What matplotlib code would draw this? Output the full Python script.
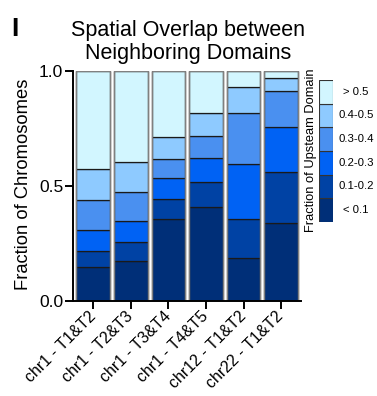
import matplotlib
matplotlib.use("Agg")
import matplotlib.pyplot as plt
import matplotlib.transforms as mtransforms
import numpy as np

plt.rcParams['font.family'] = ['Liberation Sans', 'DejaVu Sans']

categories = ["chr1 - T1&T2", "chr1 - T2&T3", "chr1 - T3&T4", "chr1 - T4&T5", "chr12 - T1&T2", "chr22 - T1&T2"]
bins = ["< 0.1", "0.1-0.2", "0.2-0.3", "0.3-0.4", "0.4-0.5", "> 0.5"]
lt_01 =   [0.149, 0.172, 0.358, 0.407, 0.188, 0.340]
b01_02 =  [0.068, 0.086, 0.084, 0.109, 0.167, 0.221]
b02_03 =  [0.092, 0.091, 0.091, 0.107, 0.239, 0.196]
b03_04 =  [0.130, 0.123, 0.086, 0.096, 0.223, 0.154]
b04_05 =  [0.133, 0.131, 0.093, 0.097, 0.112, 0.060]
gt_05 =   [0.428, 0.397, 0.288, 0.184, 0.071, 0.029]
series = [lt_01, b01_02, b02_03, b03_04, b04_05, gt_05]
colors = ["#002f78", "#0042a4", "#0062f4", "#4a90f0", "#8ecaff", "#d2f6ff"]

fig = plt.figure(figsize=(3.77, 3.96), dpi=100)
ax = fig.add_axes([73/377, 1-301/396, (301-73)/377, (301-71)/396])

x = np.arange(len(categories))
bottom = np.zeros(len(categories))
for vals, c in zip(series, colors):
    ax.bar(x, vals, bottom=bottom, width=0.9, color=c, edgecolor="#1a1a1a", linewidth=0.9)
    bottom += np.array(vals)
ax.bar(x, bottom, width=0.9, fill=False, edgecolor="#808080", linewidth=1.0)

ax.set_xlim(-0.54, 5.53)
ax.set_ylim(0, 1.0)
ax.set_yticks([0, 0.5, 1.0])
ax.set_yticklabels(["0.0", "0.5", "1.0"], fontsize=12.5)
ax.set_xticks(x)
ax.set_xticklabels(categories, rotation=45, ha="right", va="center", rotation_mode="anchor", fontsize=11.5)
offset = mtransforms.ScaledTranslation(10/100, -5/100, fig.dpi_scale_trans)
for lab in ax.get_xticklabels():
    lab.set_transform(lab.get_transform() + offset)
ax.tick_params(axis="both", direction="out", length=6, width=1.4, colors="black")
ax.tick_params(axis="y", pad=1)
for s in ["top", "right"]:
    ax.spines[s].set_visible(False)
for s in ["left", "bottom"]:
    ax.spines[s].set_linewidth(1.4)

fig.text(24/377, 1-184/396, "Fraction of Chromosomes", rotation=90, ha="center", va="center", fontsize=13.2)

fig.text(188/377, 1-42/396, "Spatial Overlap between\nNeighboring Domains", ha="center", va="center",
         fontsize=15.5, linespacing=1.15)
fig.text(15/377, 1-29/396, "I", fontsize=19, fontweight="bold", ha="center", va="center")

# legend
lax = fig.add_axes([319/377, 1-222/396, 14/377, 142/396])
for i, c in enumerate(colors):
    lax.bar(0, 1, bottom=i, width=1, color=c, edgecolor="#333333", linewidth=0.8)
    lax.text(2.14, i + 0.5, bins[i], ha="center", va="center", fontsize=8.2)
lax.set_xlim(-0.5, 0.5)
lax.set_ylim(0, 6)
lax.axis("off")
fig.text(311/377, 1-150/396, "Fraction of Upsteam Domain", rotation=90, ha="center", va="center", fontsize=9.3)

fig.savefig("out.png", dpi=100)
